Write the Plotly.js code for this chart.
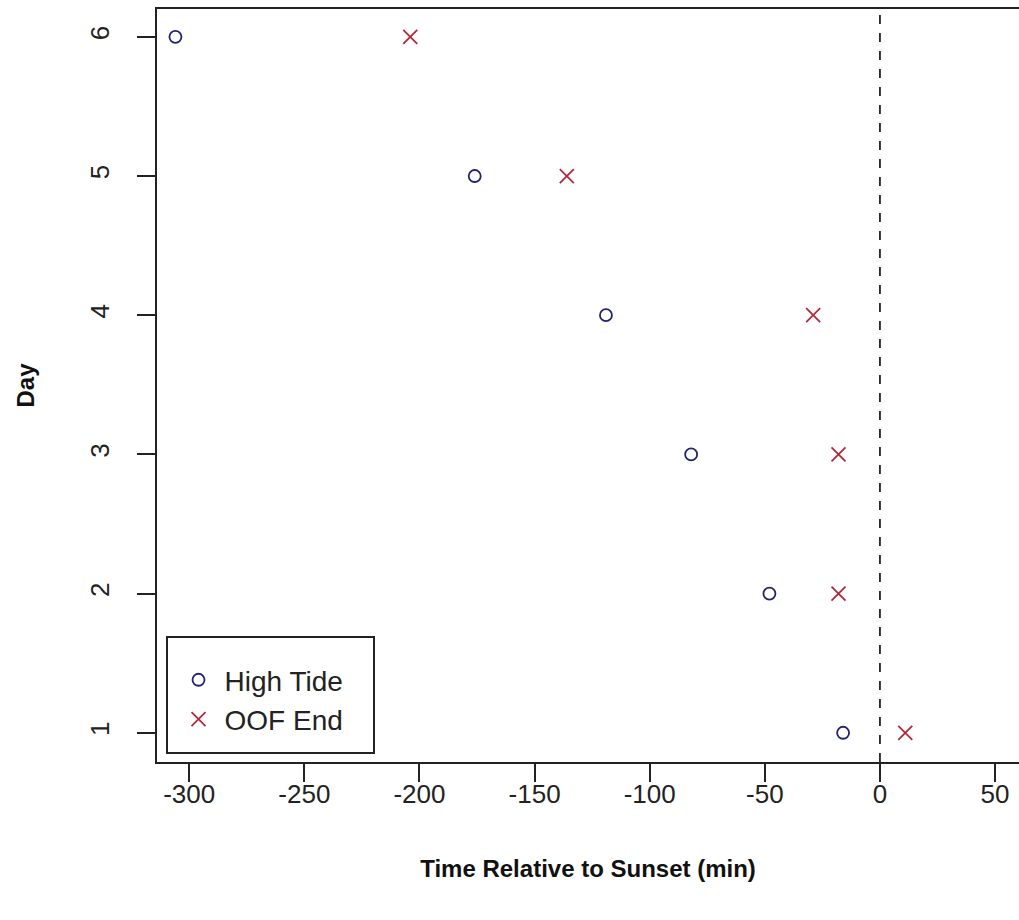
<!DOCTYPE html>
<html>
<head>
<meta charset="utf-8">
<script src="https://cdn.plot.ly/plotly-3.0.1.min.js"></script>
<style>html,body{margin:0;padding:0;background:#fff;}</style>
</head>
<body>
<div id="chart" style="width:1019px;height:920px;"></div>
<script>
const days = [6, 5, 4, 3, 2, 1];
const highTide = [-306, -176, -119, -82, -48, -16];
const oofEnd = [-204, -136, -29, -18, -18, 11];
const xTicks = [-300, -250, -200, -150, -100, -50, 0, 50];
const yTicks = [1, 2, 3, 4, 5, 6];

const font = "Liberation Sans, Arial, sans-serif";

const traces = [
  {
    x: highTide, y: days, name: "High Tide", type: "scatter", mode: "markers",
    marker: {symbol: "circle-open", size: 12, color: "#22226e", line: {width: 1.8, color: "#22226e"}}
  },
  {
    x: oofEnd, y: days, name: "OOF End", type: "scatter", mode: "markers",
    marker: {symbol: "x-thin-open", size: 14, color: "#b5283a", line: {width: 1.8, color: "#b5283a"}}
  }
];

const layout = {
  width: 1019, height: 920,
  margin: {l: 157, r: 0, t: 9, b: 158},
  paper_bgcolor: "#fff", plot_bgcolor: "#fff",
  font: {family: font, color: "#222"},
  showlegend: true,
  legend: {
    x: 0.018, y: 0.142, xanchor: "left", yanchor: "top",
    borderwidth: 0, bgcolor: "rgba(0,0,0,0)",
    font: {size: 28, family: font, color: "#222"},
    itemwidth: 42, tracegroupgap: 0
  },
  xaxis: {
    range: [-314, 60.4], tickvals: xTicks, ticktext: xTicks.map(String),
    showgrid: false, zeroline: false, showline: true, mirror: true,
    linecolor: "#222", linewidth: 2,
    ticks: "outside", ticklen: 18, tickwidth: 2, tickcolor: "#222",
    ticklabelstandoff: -10,
    tickfont: {size: 26, family: font, color: "#222"},
    title: {text: "<b>Time Relative to Sunset (min)</b>", font: {size: 24, family: font, color: "#111"}, standoff: 52}
  },
  yaxis: {
    range: [0.79, 6.2], tickvals: yTicks, ticktext: yTicks.map(String),
    showgrid: false, zeroline: false, showline: true, mirror: false,
    linecolor: "#222", linewidth: 2,
    ticks: "outside", ticklen: 18, tickwidth: 2, tickcolor: "#222",
    tickangle: -90, ticklabelstandoff: 18,
    tickfont: {size: 26, family: font, color: "#222"},
    title: {text: "<b>Day</b>", font: {size: 24, family: font, color: "#111"}, standoff: 43}
  },
  shapes: [
    {type: "line", xref: "x", yref: "paper", x0: 0, x1: 0, y0: 0, y1: 1,
     line: {color: "#222", width: 1.8, dash: "dash"}},
    {type: "rect", xref: "paper", yref: "paper",
     x0: (167 - 157) / 862, x1: (374 - 157) / 862,
     y0: (762 - 753) / 753, y1: (762 - 637) / 753,
     line: {color: "#222", width: 2}, fillcolor: "rgba(0,0,0,0)"}
  ]
};

Plotly.newPlot("chart", traces, layout, {displayModeBar: false, staticPlot: true});
</script>
</body>
</html>
